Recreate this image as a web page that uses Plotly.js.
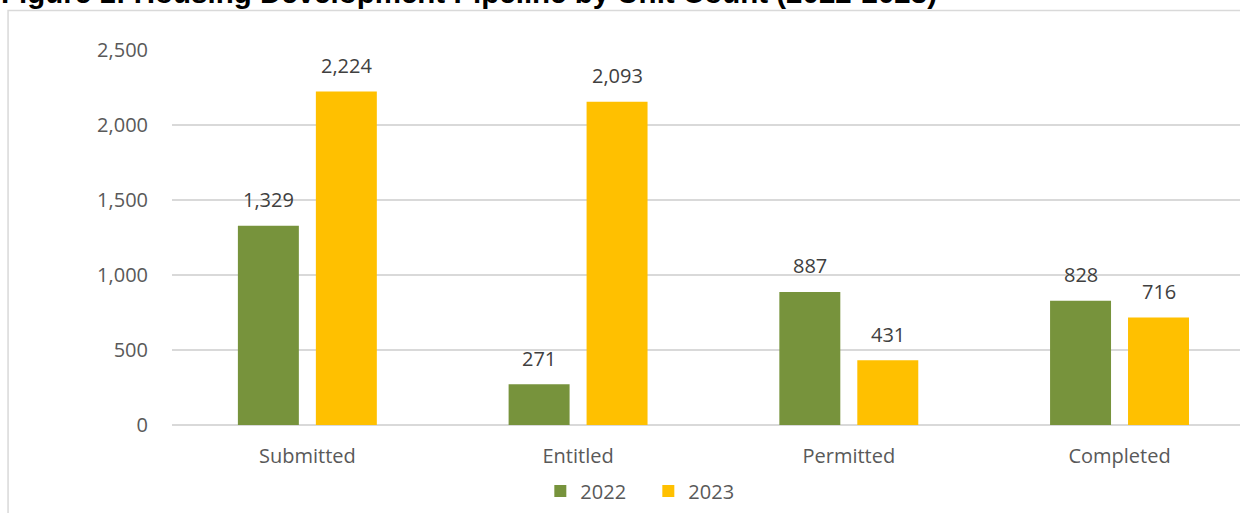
<!DOCTYPE html>
<html>
<head>
<meta charset="utf-8">
<script src="https://cdn.plot.ly/plotly-3.0.1.min.js"></script>
<style>
  html, body { margin: 0; padding: 0; background: #ffffff; }
  #chart { width: 1240px; height: 513px; }
</style>
</head>
<body>
<div id="chart"></div>
<script>
// ---- data ----
const categories = ["Submitted", "Entitled", "Permitted", "Completed"];
const seriesNames = ["2022", "2023"];
const values2022 = [1329, 271, 887, 828];
const values2023 = [2224, 2155, 431, 716];
const labels2022 = ["1,329", "271", "887", "828"];
const labels2023 = ["2,224", "2,093", "431", "716"];
const yTicks = [0, 500, 1000, 1500, 2000, 2500];
const titleText = "Figure 1: Housing Development Pipeline by Unit Count (2022-2023)";

// ---- style ----
const GREEN = "#77933C";
const YELLOW = "#FFC000";
const BARGAP = 0.424;
const BARGROUPGAP = 0.218;
const slot = (1 - BARGAP) / 2;
const offs = [-slot / 2, slot / 2];

const idx = categories.map((c, i) => i);

const traces = [
  { type: "bar", name: seriesNames[0], x: idx, y: values2022,
    marker: { color: GREEN }, hoverinfo: "skip" },
  { type: "bar", name: seriesNames[1], x: idx, y: values2023,
    marker: { color: YELLOW }, hoverinfo: "skip" }
];

const annotations = [];
[[values2022, labels2022, offs[0]], [values2023, labels2023, offs[1]]].forEach(([vals, labs, off]) => {
  vals.forEach((v, i) => {
    annotations.push({
      x: i + off, y: v, xref: "x", yref: "y",
      text: labs[i], showarrow: false,
      yanchor: "middle", xanchor: "center", yshift: 26,
      font: { family: "Open Sans", size: 20, color: "#404040" }
    });
  });
});

// title, partly clipped at top like the reference
annotations.push({
  xref: "paper", yref: "paper", x: -0.162, y: 1.1045,
  xanchor: "left", yanchor: "bottom", showarrow: false,
  text: "<b>" + titleText + "</b>",
  font: { family: "Liberation Sans", size: 29.5, color: "#000000" }
});

const layout = {
  width: 1240, height: 513,
  margin: { l: 172, r: 0, t: 50, b: 88 },
  paper_bgcolor: "#ffffff", plot_bgcolor: "#ffffff",
  barmode: "group", bargap: BARGAP, bargroupgap: BARGROUPGAP,
  showlegend: true,
  legend: {
    orientation: "h", x: 0.446, xanchor: "center", y: -0.176, yanchor: "middle",
    entrywidth: 63, entrywidthmode: "pixels",
    font: { family: "Open Sans", size: 20, color: "#595959" },
    itemclick: false, itemdoubleclick: false
  },
  xaxis: {
    range: [-0.5, 3.445],
    tickmode: "array", tickvals: idx, ticktext: categories,
    showgrid: false, zeroline: false, showline: false, ticks: "",
    ticklabelstandoff: 17,
    tickfont: { family: "Open Sans", size: 20, color: "#595959" },
    fixedrange: true
  },
  yaxis: {
    range: [0, 2500],
    tickmode: "array", tickvals: yTicks, tickformat: ",d",
    showgrid: true, gridcolor: "#d9d9d9", gridwidth: 1.5,
    zeroline: true, zerolinecolor: "#d9d9d9", zerolinewidth: 1.5,
    showline: false, ticks: "",
    ticklabelstandoff: 23,
    tickfont: { family: "Open Sans", size: 20, color: "#595959" },
    fixedrange: true
  },
  annotations: annotations,
  shapes: [{
    type: "rect", xref: "paper", yref: "paper",
    x0: -0.1535, x1: 1.2, y0: -0.4, y1: 1.1055,
    line: { color: "#d9d9d9", width: 1.5 }, fillcolor: "rgba(0,0,0,0)", layer: "below"
  }]
};

Plotly.newPlot("chart", traces, layout, { displayModeBar: false, staticPlot: true });
</script>
</body>
</html>
